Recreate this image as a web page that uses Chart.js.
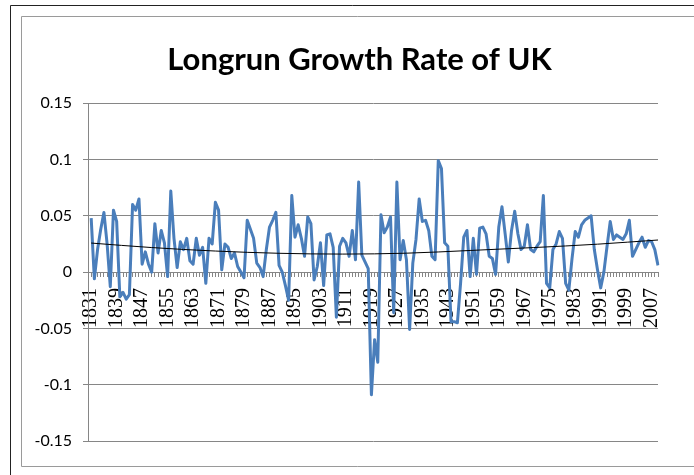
<!DOCTYPE html>
<html>
<head>
<meta charset="utf-8">
<title>Longrun Growth Rate of UK</title>
<script src="https://cdn.jsdelivr.net/npm/chart.js@4.4.1/dist/chart.umd.min.js"></script>
<style>
  html, body { margin: 0; padding: 0; background: #fff; }
  #wrap { width: 694px; height: 475px; }
</style>
</head>
<body>
<div id="wrap"><canvas id="myChart" width="694" height="475"></canvas></div>
<script>
// first category (1830) is empty: growth starts in 1831
var firstYear = 1830;

// yearly growth rate, 1831 - 2009
var growth = [
  0.048, -0.006, 0.02, 0.038, 0.053, 0.025, -0.013, 0.055, 0.045,           // 1831-1839
  -0.022, -0.018, -0.024, -0.02, 0.06, 0.055, 0.065, 0.007, 0.018, 0.007,   // 1840s
  0.0, 0.043, 0.017, 0.037, 0.026, -0.004, 0.072, 0.03, 0.004, 0.027,       // 1850s
  0.02, 0.03, 0.01, 0.007, 0.03, 0.015, 0.022, -0.01, 0.03, 0.025,          // 1860s
  0.062, 0.055, 0.002, 0.025, 0.022, 0.012, 0.017, 0.005, 0.0, -0.005,      // 1870s
  0.046, 0.038, 0.03, 0.008, 0.004, -0.004, 0.02, 0.04, 0.046, 0.053,       // 1880s
  0.006, 0.0, -0.012, -0.025, 0.068, 0.031, 0.042, 0.03, 0.014, 0.049,      // 1890s
  0.043, -0.007, 0.005, 0.026, -0.012, 0.033, 0.034, 0.022, -0.04, 0.023,   // 1900s
  0.03, 0.026, 0.014, 0.037, 0.011, 0.08, 0.015, 0.009, 0.003, -0.109,      // 1910s
  -0.06, -0.08, 0.051, 0.035, 0.04, 0.049, -0.036, 0.08, 0.011, 0.028,      // 1920s
  0.011, -0.051, 0.008, 0.029, 0.065, 0.045, 0.046, 0.037, 0.014, 0.011,    // 1930s
  0.099, 0.092, 0.026, 0.023, -0.044, -0.044, -0.045, -0.01, 0.031, 0.037,  // 1940s
  -0.004, 0.03, -0.002, 0.039, 0.04, 0.034, 0.014, 0.012, -0.002, 0.04,    // 1950s
  0.058, 0.034, 0.009, 0.037, 0.054, 0.034, 0.02, 0.023, 0.042, 0.02,       // 1960s
  0.018, 0.023, 0.027, 0.068, -0.01, -0.014, 0.02, 0.025, 0.036, 0.03,      // 1970s
  -0.01, -0.016, 0.012, 0.036, 0.031, 0.042, 0.046, 0.048, 0.05, 0.02,      // 1980s
  0.002, -0.014, 0.0, 0.023, 0.045, 0.029, 0.033, 0.031, 0.029, 0.034,      // 1990s
  0.046, 0.014, 0.02, 0.026, 0.031, 0.022, 0.028, 0.027, 0.02, 0.006        // 2000s
];

var tickYears = [1831, 1839, 1847, 1855, 1863, 1871, 1879, 1887, 1895, 1903, 1911, 1919,
                 1927, 1935, 1943, 1951, 1959, 1967, 1975, 1983, 1991, 1999, 2007];

// black trend curve, read at a few years
var trendYears  = [1831,   1850,   1870,   1890,   1910,  1930,   1950,   1970,   1990,   2009];
var trendValues = [0.0258, 0.0218, 0.0187, 0.0167, 0.016, 0.0168, 0.0192, 0.0218, 0.0248, 0.0285];

var yTicks = [0.15, 0.1, 0.05, 0, -0.05, -0.1, -0.15];

var labels = [];
for (var i = 0; i <= growth.length; i++) {
  labels.push(String(firstYear + i));
}

var trendPoints = trendYears.map(function(yr, k) {
  return { x: String(yr), y: trendValues[k] };
});

// white page + the two frame lines of the original sheet
var framePlugin = {
  id: 'frame',
  beforeDraw: function(chart) {
    var c = chart.ctx;
    c.save();
    c.fillStyle = '#ffffff';
    c.fillRect(0, 0, chart.width, chart.height);
    c.strokeStyle = '#222222';
    c.lineWidth = 1;
    c.beginPath();
    c.moveTo(10.5, chart.height);
    c.lineTo(10.5, 5.5);
    c.lineTo(chart.width, 5.5);
    c.stroke();
    c.strokeStyle = '#9a9a9a';
    c.beginPath();
    c.moveTo(chart.width, 16.5);
    c.lineTo(21.5, 16.5);
    c.lineTo(21.5, 466.5);
    c.lineTo(chart.width, 466.5);
    c.stroke();
    c.restore();
  }
};

var ctx = document.getElementById('myChart').getContext('2d');
var chart = new Chart(ctx, {
  type: 'line',
  data: {
    labels: labels,
    datasets: [{
      data: [null].concat(growth),
      borderColor: '#4a7ebb',
      borderWidth: 3,
      pointRadius: 0,
      tension: 0,
      borderJoinStyle: 'round',
      order: 2
    }, {
      data: trendPoints,
      borderColor: '#000000',
      borderWidth: 1,
      pointRadius: 0,
      cubicInterpolationMode: 'monotone',
      order: 1
    }]
  },
  options: {
    responsive: false,
    animation: false,
    layout: { padding: { left: 25, right: 0, top: 0, bottom: 34 } },
    plugins: {
      legend: { display: false },
      tooltip: { enabled: false },
      title: {
        display: true,
        text: 'Longrun Growth Rate of UK',
        color: '#000000',
        font: { family: 'Lato', size: 31, weight: 'bold', lineHeight: 1.2 },
        padding: { top: 41, bottom: 25 }
      }
    },
    scales: {
      x: {
        type: 'category',
        position: { y: 0 },
        offset: false,
        grid: { drawOnChartArea: false, drawTicks: true, tickLength: 4, color: '#868686' },
        border: { display: true, color: '#868686', width: 1 },
        ticks: {
          autoSkip: false,
          minRotation: 90,
          maxRotation: 90,
          padding: 12,
          color: '#000000',
          font: { family: 'Liberation Serif', size: 20 },
          callback: function(val) {
            var yr = Number(this.getLabelForValue(val));
            return tickYears.indexOf(yr) >= 0 ? String(yr) : '';
          }
        }
      },
      y: {
        min: -0.15,
        max: 0.15,
        afterBuildTicks: function(scale) {
          scale.ticks = yTicks.map(function(v) { return { value: v }; });
        },
        afterFit: function(scale) { scale.width = 63; },
        grid: { color: '#868686', tickLength: 5 },
        border: { color: '#868686' },
        ticks: {
          padding: 11,
          color: '#000000',
          font: { family: 'Lato', size: 16 },
          callback: function(v) { return String(parseFloat(Number(v).toFixed(2))); }
        }
      },
      // empty right strip, so the title stays centred on the sheet's chart box
      yRight: {
        position: 'right',
        grid: { display: false, drawTicks: false },
        border: { display: false },
        ticks: { display: false },
        afterFit: function(scale) { scale.width = 17; }
      }
    }
  },
  plugins: [framePlugin]
});
</script>
</body>
</html>
